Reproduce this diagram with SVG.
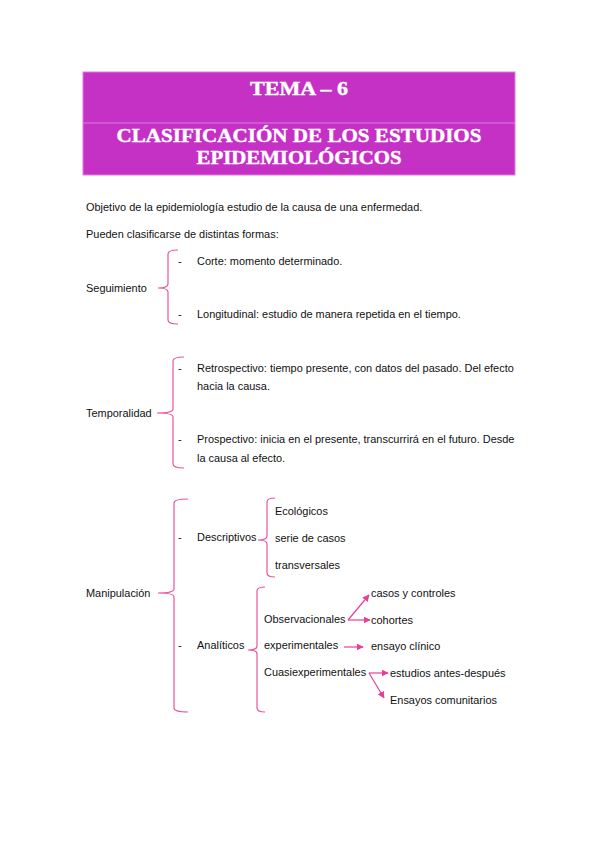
<svg xmlns="http://www.w3.org/2000/svg" width="599" height="848" viewBox="0 0 599 848">
<style>
.t{font-family:"Liberation Sans",Arial,sans-serif;font-size:10.95px;fill:#111}
.h{font-family:"Liberation Serif","Times New Roman",serif;font-weight:bold;font-size:19px;fill:#fff;stroke:#fff;stroke-width:0.4;text-anchor:middle}
.br{fill:none;stroke:#e8559e;stroke-width:1.2}
.ar{fill:none;stroke:#e83e96;stroke-width:1.2}
</style>
<defs>
<marker id="ah" viewBox="0 0 10 10" refX="9" refY="5" markerWidth="7" markerHeight="7" markerUnits="userSpaceOnUse" orient="auto">
<path d="M0,0 L10,5 L0,10 z" fill="#e83e96"/>
</marker>
</defs>
<rect width="599" height="848" fill="#fff"/>
<g id="header">
<rect x="83" y="72" width="432" height="103" fill="#c530c5" stroke="#e07ae0" stroke-width="1"/>
<line x1="83" y1="123" x2="515" y2="123" stroke="#e07ae0" stroke-width="1"/>
<text class="h" x="299" y="95" textLength="98" lengthAdjust="spacingAndGlyphs">TEMA – 6</text>
<text class="h" x="299" y="142" textLength="365" lengthAdjust="spacingAndGlyphs">CLASIFICACIÓN DE LOS ESTUDIOS</text>
<text class="h" x="299" y="164" textLength="205" lengthAdjust="spacingAndGlyphs">EPIDEMIOLÓGICOS</text>
</g>
<g id="intro">
<text class="t" x="86" y="211">Objetivo de la epidemiología estudio de la causa de una enfermedad.</text>
<text class="t" x="86" y="238">Pueden clasificarse de distintas formas:</text>
</g>
<g id="seguimiento">
<text class="t" x="86" y="292">Seguimiento</text>
<path class="br" d="M178,250 Q168,250 168,254 L168,284 Q168,288 158,288 Q168,288 168,292 L168,320 Q168,324 178,324"/>
<text class="t" x="178" y="265">-</text>
<text class="t" x="197" y="265">Corte: momento determinado.</text>
<text class="t" x="178" y="318">-</text>
<text class="t" x="197" y="318">Longitudinal: estudio de manera repetida en el tiempo.</text>
</g>
<g id="temporalidad">
<text class="t" x="86" y="417">Temporalidad</text>
<path class="br" d="M184,357 Q173,357 173,361 L173,409 Q173,413 157,413 Q173,413 173,417 L173,464 Q173,468 184,468"/>
<text class="t" x="178" y="372">-</text>
<text class="t" x="197" y="372">Retrospectivo: tiempo presente, con datos del pasado. Del efecto</text>
<text class="t" x="197" y="390">hacia la causa.</text>
<text class="t" x="178" y="443">-</text>
<text class="t" x="197" y="443">Prospectivo: inicia en el presente, transcurrirá en el futuro. Desde</text>
<text class="t" x="197" y="462">la causa al efecto.</text>
</g>
<g id="manipulacion">
<text class="t" x="86" y="597">Manipulación</text>
<path class="br" d="M188,499 Q174,499 174,503 L174,589 Q174,593 158,593 Q174,593 174,597 L174,708 Q174,712 188,712"/>
</g>
<g id="descriptivos">
<text class="t" x="178" y="541">-</text>
<text class="t" x="197" y="541">Descriptivos</text>
<path class="br" d="M275,498 Q267,498 267,502 L267,536 Q267,540 258,540 Q267,540 267,544 L267,573 Q267,577 275,577"/>
<text class="t" x="275" y="515">Ecológicos</text>
<text class="t" x="275" y="542">serie de casos</text>
<text class="t" x="275" y="569">transversales</text>
</g>
<g id="analiticos">
<text class="t" x="178" y="649">-</text>
<text class="t" x="197" y="649">Analíticos</text>
<path class="br" d="M265,587 Q257,587 257,591 L257,646 Q257,650 248,650 Q257,650 257,654 L257,708 Q257,712 265,712"/>
<text class="t" x="264" y="623">Observacionales</text>
<text class="t" x="264" y="649">experimentales</text>
<text class="t" x="264" y="676">Cuasiexperimentales</text>
</g>
<g id="leaves">
<text class="t" x="371" y="597">casos y controles</text>
<text class="t" x="371" y="624">cohortes</text>
<text class="t" x="371" y="650">ensayo clínico</text>
<text class="t" x="390" y="677">estudios antes-después</text>
<text class="t" x="390" y="704">Ensayos comunitarios</text>
</g>
<g id="connectors">
<line class="ar" x1="348" y1="620" x2="369" y2="595" marker-end="url(#ah)"/>
<line class="ar" x1="348" y1="620" x2="370" y2="620" marker-end="url(#ah)"/>
<line class="ar" x1="344" y1="647" x2="363" y2="647" marker-end="url(#ah)"/>
<line class="ar" x1="369" y1="673" x2="388" y2="673" marker-end="url(#ah)"/>
<line class="ar" x1="369" y1="673" x2="384" y2="698" marker-end="url(#ah)"/>
</g>
</svg>
